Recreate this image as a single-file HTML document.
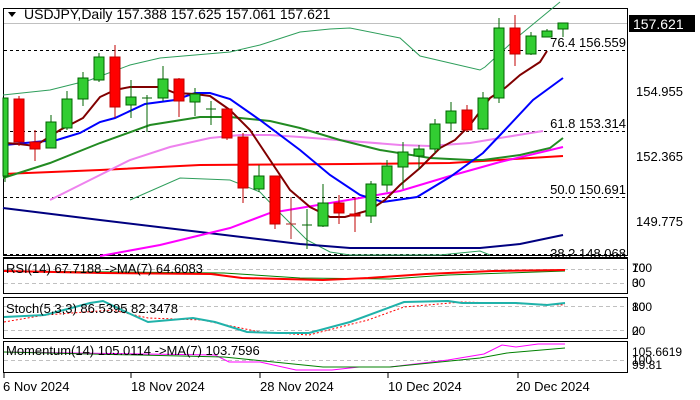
<!DOCTYPE html>
<html><head><meta charset="utf-8"><style>
html,body{margin:0;padding:0;background:#fff;width:700px;height:400px;overflow:hidden}
svg{display:block;font-family:"Liberation Sans","DejaVu Sans",sans-serif}
</style></head><body>
<svg width="700" height="400" viewBox="0 0 700 400" xmlns="http://www.w3.org/2000/svg">
<rect width="700" height="400" fill="#fff"/>
<rect x="3.5" y="8.5" width="624" height="247" fill="none" stroke="#000"/>
<line x1="3" y1="257.5" x2="628" y2="257.5" stroke="#000"/>
<g stroke="#000" stroke-dasharray="3,3" stroke-width="1">
<line x1="4" y1="50.5" x2="627" y2="50.5"/>
<line x1="4" y1="131.5" x2="627" y2="131.5"/>
<line x1="4" y1="197.5" x2="627" y2="197.5"/>
<line x1="4" y1="254.5" x2="627" y2="254.5"/>
</g>
<line x1="4" y1="23.5" x2="627" y2="23.5" stroke="#c0c0c0"/>
<g fill="none" stroke="#2e9e5b" stroke-width="1">
<polyline points="3,95 50,90 90,80 130,65 160,58 230,52 260,45 300,32 330,29 350,28 400,38 420,56 480,70 485,67 520,35 560,2"/>
<polyline points="130,200 180,178 230,180 260,192 277,210 307,240 330,252 350,255 440,255 470,252 480,251 490,255"/>
</g>
<g fill="none" stroke-width="2">
<polyline stroke="#000080" points="3,208 100,220 200,232 300,244 350,248 480,248 520,244 563,235"/>
<polyline stroke="#ff0000" points="3,174 100,170 200,165 350,164 450,163 563,156"/>
<polyline stroke="#ee82ee" points="50,200 100,175 130,160 170,147 210,138 240,135 270,135 300,137 350,141 400,145 430,146 470,143 500,138 543,131"/>
<polyline stroke="#ff00ff" points="100,256 160,245 230,228 270,213 300,208 330,203 360,198 400,191 450,176 500,162 563,147"/>
<polyline stroke="#228b22" points="3,178 50,163 100,143 150,125 200,117 230,117 270,121 300,128 340,140 380,150 430,158 470,160 483,160 520,155 550,148 563,138"/>
<polyline stroke="#0000ff" points="5,145 35,142 57,140 80,133 100,122 115,118 145,104 175,100 195,93 210,93 230,99 260,120 300,150 330,175 360,195 383,202 417,197 450,177 483,153 503,132 533,100 563,78"/>
<polyline stroke="#800000" points="5,143 19,144 35,146 60,130 83,118 100,97 115,90 130,87 160,87 175,93 195,94 210,96 230,110 250,130 270,160 290,190 310,207 330,217 345,217 370,210 385,200 400,185 420,168 440,148 455,140 470,125 490,98 505,88 520,75 540,62 547,51"/>
</g>
<g stroke-width="1">
<g stroke="#006400"><line x1="5" y1="98" x2="5" y2="182"/><rect x="3" y="98" width="5" height="78" fill="#32cd32"/></g>
<g stroke="#c00000"><line x1="19" y1="96" x2="19" y2="146"/><rect x="14" y="99" width="10" height="43" fill="#ff0000"/></g>
<g stroke="#c00000"><line x1="35" y1="130" x2="35" y2="161"/><rect x="30" y="142" width="10" height="7" fill="#ff0000"/></g>
<g stroke="#006400"><line x1="51" y1="115" x2="51" y2="148"/><rect x="46" y="122" width="10" height="26" fill="#32cd32"/></g>
<g stroke="#006400"><line x1="67" y1="91" x2="67" y2="130"/><rect x="62" y="99" width="10" height="29" fill="#32cd32"/></g>
<g stroke="#006400"><line x1="83" y1="72" x2="83" y2="106"/><rect x="78" y="78" width="10" height="21" fill="#32cd32"/></g>
<g stroke="#006400"><line x1="99" y1="53" x2="99" y2="82"/><rect x="94" y="57" width="10" height="23" fill="#32cd32"/></g>
<g stroke="#c00000"><line x1="115" y1="45" x2="115" y2="118"/><rect x="110" y="57" width="10" height="50" fill="#ff0000"/></g>
<g stroke="#006400"><line x1="131" y1="80" x2="131" y2="118"/><rect x="126" y="97" width="10" height="8" fill="#32cd32"/></g>
<g stroke="#006400"><line x1="147" y1="95" x2="147" y2="132"/><line x1="142" y1="98" x2="152" y2="98"/></g>
<g stroke="#006400"><line x1="163" y1="66" x2="163" y2="101"/><rect x="158" y="79" width="10" height="19" fill="#32cd32"/></g>
<g stroke="#c00000"><line x1="179" y1="78" x2="179" y2="117"/><rect x="174" y="79" width="10" height="22" fill="#ff0000"/></g>
<g stroke="#006400"><line x1="195" y1="88" x2="195" y2="116"/><rect x="190" y="94" width="10" height="8" fill="#32cd32"/></g>
<g stroke="#006400"><line x1="211" y1="101" x2="211" y2="125"/><line x1="206" y1="109" x2="216" y2="109"/></g>
<g stroke="#c00000"><line x1="227" y1="108" x2="227" y2="140"/><rect x="222" y="109" width="10" height="29" fill="#ff0000"/></g>
<g stroke="#c00000"><line x1="243" y1="133" x2="243" y2="203"/><rect x="238" y="137" width="10" height="51" fill="#ff0000"/></g>
<g stroke="#006400"><line x1="259" y1="165" x2="259" y2="192"/><rect x="254" y="176" width="10" height="13" fill="#32cd32"/></g>
<g stroke="#c00000"><line x1="275" y1="176" x2="275" y2="229"/><rect x="270" y="176" width="10" height="48" fill="#ff0000"/></g>
<g stroke="#b22222"><line x1="291" y1="197" x2="291" y2="239"/><line x1="286" y1="224" x2="296" y2="224"/></g>
<g stroke="#006400"><line x1="307" y1="209" x2="307" y2="249"/><line x1="302" y1="225" x2="312" y2="225"/></g>
<g stroke="#006400"><line x1="323" y1="184" x2="323" y2="227"/><rect x="318" y="203" width="10" height="23" fill="#32cd32"/></g>
<g stroke="#c00000"><line x1="339" y1="195" x2="339" y2="224"/><rect x="334" y="203" width="10" height="10" fill="#ff0000"/></g>
<g stroke="#c00000"><line x1="355" y1="197" x2="355" y2="232"/><rect x="350" y="214" width="10" height="2" fill="#ff0000"/></g>
<g stroke="#006400"><line x1="371" y1="181" x2="371" y2="223"/><rect x="366" y="184" width="10" height="32" fill="#32cd32"/></g>
<g stroke="#006400"><line x1="387" y1="160" x2="387" y2="192"/><rect x="382" y="166" width="10" height="19" fill="#32cd32"/></g>
<g stroke="#006400"><line x1="403" y1="142" x2="403" y2="189"/><rect x="398" y="152" width="10" height="15" fill="#32cd32"/></g>
<g stroke="#006400"><line x1="419" y1="145" x2="419" y2="170"/><rect x="414" y="149" width="10" height="7" fill="#32cd32"/></g>
<g stroke="#006400"><line x1="435" y1="119" x2="435" y2="153"/><rect x="430" y="124" width="10" height="25" fill="#32cd32"/></g>
<g stroke="#006400"><line x1="451" y1="102" x2="451" y2="132"/><rect x="446" y="111" width="10" height="12" fill="#32cd32"/></g>
<g stroke="#c00000"><line x1="467" y1="105" x2="467" y2="132"/><rect x="462" y="110" width="10" height="20" fill="#ff0000"/></g>
<g stroke="#006400"><line x1="483" y1="92" x2="483" y2="130"/><rect x="478" y="98" width="10" height="31" fill="#32cd32"/></g>
<g stroke="#006400"><line x1="499" y1="18" x2="499" y2="103"/><rect x="494" y="28" width="10" height="70" fill="#32cd32"/></g>
<g stroke="#c00000"><line x1="515" y1="15" x2="515" y2="66"/><rect x="510" y="28" width="10" height="26" fill="#ff0000"/></g>
<g stroke="#006400"><line x1="531" y1="32" x2="531" y2="55"/><rect x="526" y="36" width="10" height="18" fill="#32cd32"/></g>
<g stroke="#006400"><line x1="547" y1="29" x2="547" y2="37"/><rect x="542" y="31" width="10" height="6" fill="#32cd32"/></g>
<g stroke="#006400"><line x1="563" y1="23" x2="563" y2="37"/><rect x="558" y="23" width="10" height="6" fill="#32cd32"/></g>
</g>
<g font-size="13" fill="#000" text-anchor="end">
<text x="626" y="47">76.4 156.559</text>
<text x="626" y="128">61.8 153.314</text>
<text x="626" y="194">50.0 150.691</text>
<text x="626" y="258">38.2 148.068</text>
</g>
<g font-size="13" fill="#000">
<path d="M8,12 L16,12 L12,17 Z" fill="#000"/>
<text x="24" y="19" font-size="14">USDJPY,Daily  157.388 157.625 157.061 157.621</text>
<text x="636" y="96">154.955</text>
<text x="636" y="161">152.365</text>
<text x="636" y="226">149.775</text>
</g>
<rect x="629" y="15" width="66" height="17" fill="#000"/>
<text x="633" y="29" font-size="14" fill="#fff">157.621</text>
<rect x="3.5" y="258.5" width="624" height="35" fill="#fff" stroke="#000"/>
<g stroke="#c0c0c0" stroke-dasharray="4,3"><line x1="4" y1="269.5" x2="627" y2="269.5"/><line x1="4" y1="283.5" x2="627" y2="283.5"/></g>
<polyline fill="none" stroke="#008000" stroke-width="1" points="4,271 224,273 300,278 390,279 448,275 565,271"/>
<polyline fill="none" stroke="#ff0000" stroke-width="2" points="4,271 103,273 211,274 242,278 323,280 368,278 426,274 493,271 565,270"/>
<text x="6" y="273" font-size="13">RSI(14) 67.7188 -&gt;MA(7) 64.6083</text>
<rect x="3.5" y="297.5" width="624" height="41" fill="#fff" stroke="#000"/>
<g stroke="#c0c0c0" stroke-dasharray="4,3"><line x1="4" y1="306.5" x2="627" y2="306.5"/><line x1="4" y1="330.5" x2="627" y2="330.5"/></g>
<polyline fill="none" stroke="#ff0000" stroke-dasharray="2,2" points="4,322 45,315 112,310 148,318 202,320 260,332 309,335 368,320 404,307 462,302 565,305"/>
<polyline fill="none" stroke="#20b2aa" stroke-width="2" points="4,317 45,315 90,303 103,301 126,312 148,322 193,318 215,322 247,332 278,333 309,333 350,322 404,302 448,301 462,303 516,303 547,305 565,303"/>
<text x="6" y="313" font-size="13">Stoch(5,3,3) 86.5395 82.3478</text>
<rect x="3.5" y="341.5" width="624" height="31" fill="#fff" stroke="#000"/>
<line x1="4" y1="360.5" x2="627" y2="360.5" stroke="#c0c0c0" stroke-dasharray="4,3"/>
<polyline fill="none" stroke="#ff00ff" points="4,352 215,355 229,362 260,362 296,370 332,370 359,367 390,367 448,360 484,354 502,345 516,347 538,344 565,344"/>
<polyline fill="none" stroke="#008000" points="4,352 224,357 323,367 390,367 480,358 507,353 565,348"/>
<text x="6" y="355" font-size="13">Momentum(14) 105.0114 -&gt;MA(7) 103.7596</text>
<g font-size="12" fill="#000">
<text x="632" y="272">100</text><text x="632" y="272">70</text>
<text x="632" y="287">30</text><text x="632" y="287">0</text>
<text x="632" y="311">100</text><text x="632" y="311">80</text>
<text x="632" y="335">20</text><text x="632" y="335">0</text>
<text x="632" y="356">105.6619</text>
<text x="632" y="364">100</text>
<text x="632" y="369">99.81</text>
</g>
<g stroke="#000"><line x1="4" y1="373" x2="4" y2="378"/><line x1="131" y1="373" x2="131" y2="378"/><line x1="260" y1="373" x2="260" y2="378"/><line x1="388" y1="373" x2="388" y2="378"/><line x1="518" y1="373" x2="518" y2="378"/></g>
<g font-size="13" fill="#000">
<text x="3" y="391">6 Nov 2024</text>
<text x="131" y="391">18 Nov 2024</text>
<text x="260" y="391">28 Nov 2024</text>
<text x="388" y="391">10 Dec 2024</text>
<text x="516" y="391">20 Dec 2024</text>
</g>
</svg>
</body></html>
